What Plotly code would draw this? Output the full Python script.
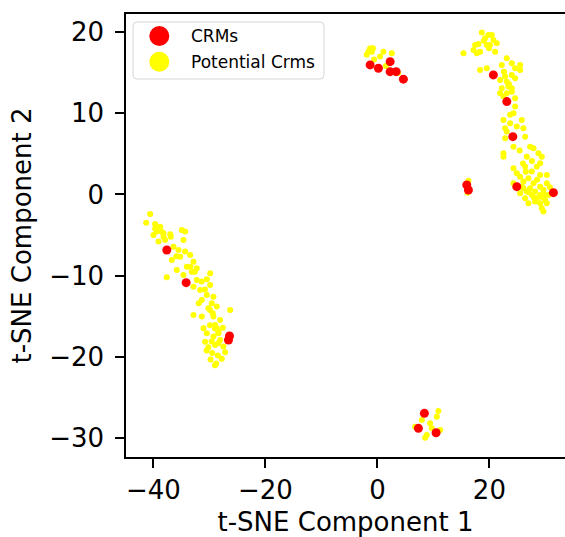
import plotly.graph_objects as go

# t-SNE embedding: known CRMs
crm_x = [-1.3, 0.18, 2.27, 2.27, 3.34, 4.64,
         8.39, 7.32, 10.48,
         15.96, 16.25,
         20.71, 23.11, 24.18, 24.89, 31.43,
         -37.61, -34.16, -26.42, -26.6]
crm_y = [15.94, 15.53, 16.34, 15.11, 15.11, 14.18,
         -26.93, -28.77, -29.31,
         1.17, 0.55,
         14.71, 11.42, 7.11, 0.96, 0.22,
         -6.83, -10.85, -17.41, -17.9]

# t-SNE embedding: potential CRMs
pot_x = [
    # upper middle group
    -1.3, -1.6, -1.0, -0.8, -1.9, 1.07, 2.57, 0.48, 3.7, -0.6, 1.5,
    # small group near x=16
    16.25, 16.1,
    # bottom group
    10.89, 10.61, 6.73, 9.41, 8.82, 8.52, 9.71, 7.93, 11.2,
    # right arm
    18.64, 19.83, 20.43, 19.24, 20.72, 21.32, 17.45, 18.05, 19.53, 17.15,
    18.34, 21.02, 15.37, 17.75, 19.93,
    23.1, 24.0, 25.49, 24.59, 22.21, 18.34, 19.53, 25.49, 22.8, 24.0,
    24.59, 21.91, 23.1, 23.4, 22.21, 24.0, 21.91, 23.1, 24.0, 22.51, 24.59,
    24.59, 24.3, 22.51, 25.78, 23.7, 22.8, 26.08, 24.89, 23.1, 26.38,
    22.8, 24.3, 27.27, 27.87, 22.51, 22.51, 26.68, 28.76, 29.35,
    29.06, 24.3, 26.38, 28.46, 24.89, 27.57, 30.25, 25.49, 26.97, 29.06,
    26.08, 24.3, 27.87, 30.25, 25.78, 27.27, 29.06, 26.68, 28.16, 29.65,
    25.49, 27.57, 29.06, 30.55, 26.38, 28.46, 29.95, 29.06, 30.25, 26.97,
    29.35, 29.65, 28.16, 26.08,
    28.5, 27.0, 29.8, 28.0, 26.5, 23.7, 25.4, 23.5, 19.0, 20.1,
    22.6, 27.6, 30.8, 29.4, 26.0,
    # left arm
    -40.59, -41.30, -39.70, -38.80, -39.40, -38.21, -34.93, -34.34, -39.10,
    -37.91, -34.64, -36.42, -35.53, -34.34, -35.23, -36.72, -33.45, -32.85,
    -35.83, -34.04, -32.26, -34.64, -33.15, -37.61, -29.87, -30.47, -32.26,
    -32.85, -29.87, -31.66, -30.47, -29.28, -31.36, -29.58, -30.17, -28.69,
    -26.30, -32.85, -31.36, -29.28, -28.09, -28.98, -31.06, -28.69, -30.47,
    -28.39, -29.28, -30.77, -28.09, -28.98, -27.50,
    -30.5, -29.5, -28.5, -29.8, -28.8, -27.8, -30.2, -27.2, -29.0,
    -39.7, -38.5, -40.0, -38.2, -36.9, -33.4, -32.6, -31.4, -30.8, -29.9,
    -29.4, -29.0, -28.4, -29.9, -29.6, -28.4, -37.0, -35.9, -31.9, -27.6,
]
pot_y = [
    18.0, 17.6, 17.57, 18.0, 17.2, 17.57, 17.38, 16.96, 14.95, 16.6, 15.8,
    1.7, 0.2,
    -26.64, -27.34, -28.58, -28.16, -29.6, -29.93, -28.77, -27.75, -28.98,
    19.91, 19.62, 19.62, 19.21, 19.01, 18.6, 18.4, 18.52, 18.4, 17.78,
    17.57, 17.57, 17.37, 17.37, 17.98,
    16.75, 16.14, 15.93, 15.52, 15.93, 15.32, 15.52, 15.32, 14.5, 14.7,
    14.29, 14.09, 13.88, 13.27, 13.06, 13.06, 12.45, 12.45, 12.65, 12.04, 11.83,
    10.81, 9.99, 9.17, 9.17, 8.76, 8.14, 8.14, 8.35, 7.73, 7.11,
    6.91, 5.88, 5.88, 5.68, 5.06, 4.65, 4.65, 5.06, 4.65,
    3.83, 3.22, 3.42, 3.42, 2.6, 2.81, 2.4, 2.19, 1.99, 2.4,
    1.58, 1.37, 1.37, 1.37, 0.96, 0.76, 0.96, 0.35, 0.35, 0.55,
    0.14, -0.06, -0.06, -0.06, -0.47, -0.47, -0.68, -1.09, -1.09, -1.09,
    -1.7, -2.11, -0.88, 0.76,
    1.8, 0.3, 0.0, -0.4, 2.8, 9.8, 5.4, 13.6, 18.9, 18.4,
    15.1, 4.1, 0.9, -0.3, 3.8,
    -2.40, -3.47, -3.63, -3.96, -4.57, -4.78, -4.37, -4.57, -5.80,
    -5.60, -5.60, -6.42, -6.83, -7.03, -7.65, -8.06, -7.45, -8.27,
    -9.29, -8.88, -9.09, -9.91, -9.50, -10.19, -9.70, -10.44, -10.52,
    -11.34, -11.14, -11.75, -12.37, -12.57, -12.98, -13.39, -14.01, -13.80,
    -14.21, -14.83, -15.03, -15.03, -15.44, -16.06, -16.47, -16.47, -17.08,
    -17.08, -17.49, -18.11, -17.90, -18.52, -18.72,
    -19.2, -19.5, -19.8, -20.3, -20.8, -20.2, -18.8, -19.4, -21.0,
    -4.2, -4.6, -5.0, -5.2, -5.2, -8.9, -9.5, -10.7, -11.7, -14.2,
    -14.6, -16.5, -16.9, -16.1, -18.1, -18.3, -4.9, -7.6, -13.4, -16.4,
]

legend_labels = ["CRMs", "Potential Crms"]
colors = ["#ff0000", "#ffff00"]

W, H = 565, 537
ML, MT, MR, MB = 126, 14, 0, 80
PW, PH = W - ML - MR, H - MT - MB
FONT = "DejaVu Sans"


def px_x(px):
    return (px - ML) / PW


def px_y(py):
    return (H - MB - py) / PH


fig = go.Figure()
fig.add_trace(go.Scatter(
    x=pot_x, y=pot_y, mode="markers", name=legend_labels[1],
    marker=dict(color=colors[1], size=6, line=dict(width=0)),
    showlegend=False,
))
fig.add_trace(go.Scatter(
    x=crm_x, y=crm_y, mode="markers", name=legend_labels[0],
    marker=dict(color=colors[0], size=9, line=dict(width=0)),
    showlegend=False,
))

# legend frame with rounded corners
x0, x1, y0, y1, r = 133, 324, 22, 79, 4
path = (f"M{px_x(x0 + r)},{px_y(y0)} L{px_x(x1 - r)},{px_y(y0)} "
        f"Q{px_x(x1)},{px_y(y0)} {px_x(x1)},{px_y(y0 + r)} "
        f"L{px_x(x1)},{px_y(y1 - r)} Q{px_x(x1)},{px_y(y1)} {px_x(x1 - r)},{px_y(y1)} "
        f"L{px_x(x0 + r)},{px_y(y1)} Q{px_x(x0)},{px_y(y1)} {px_x(x0)},{px_y(y1 - r)} "
        f"L{px_x(x0)},{px_y(y0 + r)} Q{px_x(x0)},{px_y(y0)} {px_x(x0 + r)},{px_y(y0)} Z")
shapes = [dict(type="path", xref="paper", yref="paper", path=path,
               line=dict(color="#d6d6d6", width=1), fillcolor="rgba(255,255,255,0.8)")]
annotations = []
for i, (lab, col) in enumerate(zip(legend_labels, colors)):
    cy = 36 + i * 25.7
    shapes.append(dict(type="circle", xref="paper", yref="paper",
                       xsizemode="pixel", ysizemode="pixel",
                       xanchor=px_x(159.3), yanchor=px_y(cy),
                       x0=-10, x1=10, y0=-10, y1=10,
                       fillcolor=col, line=dict(width=0)))
    annotations.append(dict(text=lab, xref="paper", yref="paper",
                            x=px_x(189), y=px_y(cy), xanchor="left", yanchor="middle",
                            showarrow=False, font=dict(family=FONT, size=17, color="#000")))

axis_common = dict(
    showgrid=False, zeroline=False, showline=True, linecolor="#000", linewidth=1.6,
    ticks="outside", ticklen=9, tickwidth=1.6, tickcolor="#000",
    tickfont=dict(family=FONT, size=26, color="#000"),
)

fig.update_layout(
    width=W, height=H,
    margin=dict(l=ML, r=MR, t=MT, b=MB, pad=0),
    paper_bgcolor="white", plot_bgcolor="white",
    xaxis=dict(range=[-44.9, 33.5], dtick=20, tick0=0, mirror=True,
               title=dict(text="t-SNE Component 1", standoff=10,
                          font=dict(family=FONT, size=26, color="#000")),
               **axis_common),
    yaxis=dict(range=[-32.3, 22.2], dtick=10, tick0=0, mirror=False,
               ticklabelstandoff=6,
               title=dict(text="t-SNE Component 2", standoff=10,
                          font=dict(family=FONT, size=26, color="#000")),
               **axis_common),
    shapes=shapes, annotations=annotations,
    showlegend=False,
)

fig.write_html("out.html")
